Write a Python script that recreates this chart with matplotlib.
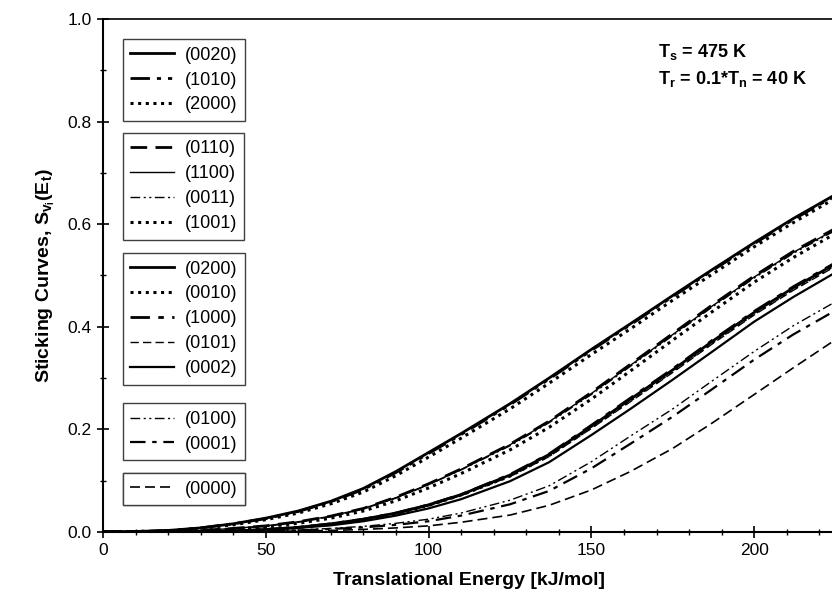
import matplotlib
matplotlib.use("Agg")
import matplotlib.pyplot as plt
from matplotlib.lines import Line2D
from matplotlib.ticker import MultipleLocator, FormatStrFormatter

plt.rcParams['font.family'] = ['Liberation Sans', 'DejaVu Sans']
plt.rcParams['mathtext.fontset'] = 'custom'
plt.rcParams['mathtext.rm'] = 'Liberation Sans:bold'
plt.rcParams['mathtext.it'] = 'Liberation Sans:bold'
plt.rcParams['mathtext.bf'] = 'Liberation Sans:bold'

# translational energy grid (kJ/mol)
energy = [0, 10, 20, 30, 40, 50, 60, 70, 80, 90, 100, 110, 125, 137, 150,
          162, 175, 187, 200, 212, 225]

# group 1
s0020 = [0, 0.001, 0.003, 0.008, 0.016, 0.027, 0.041, 0.060, 0.085, 0.118, 0.155,
         0.192, 0.250, 0.300, 0.356, 0.406, 0.461, 0.511, 0.564, 0.611, 0.658]
s1010 = [0, 0.001, 0.003, 0.008, 0.016, 0.026, 0.040, 0.059, 0.083, 0.116, 0.153,
         0.190, 0.248, 0.298, 0.354, 0.404, 0.459, 0.509, 0.562, 0.609, 0.656]
s2000 = [0, 0.001, 0.002, 0.007, 0.014, 0.024, 0.037, 0.055, 0.078, 0.110, 0.146,
         0.183, 0.240, 0.290, 0.346, 0.396, 0.452, 0.502, 0.556, 0.603, 0.651]
# group 2
s0110 = [0, 0, 0.001, 0.003, 0.007, 0.012, 0.020, 0.031, 0.046, 0.068, 0.094,
         0.123, 0.171, 0.216, 0.272, 0.327, 0.387, 0.442, 0.499, 0.547, 0.592]
s1100 = [0, 0, 0.001, 0.003, 0.007, 0.012, 0.020, 0.031, 0.046, 0.067, 0.093,
         0.122, 0.170, 0.215, 0.270, 0.325, 0.385, 0.440, 0.497, 0.545, 0.590]
s0011 = [0, 0, 0.001, 0.003, 0.006, 0.011, 0.019, 0.030, 0.045, 0.066, 0.092,
         0.121, 0.168, 0.213, 0.268, 0.323, 0.383, 0.438, 0.495, 0.543, 0.588]
s1001 = [0, 0, 0.001, 0.002, 0.006, 0.010, 0.017, 0.027, 0.041, 0.061, 0.086,
         0.114, 0.160, 0.204, 0.259, 0.314, 0.374, 0.429, 0.487, 0.535, 0.582]
# group 3
s0200 = [0, 0, 0, 0.001, 0.002, 0.005, 0.009, 0.016, 0.025, 0.037, 0.053,
         0.073, 0.111, 0.151, 0.206, 0.259, 0.316, 0.371, 0.428, 0.476, 0.523]
s0010 = [0, 0, 0, 0.001, 0.002, 0.005, 0.009, 0.015, 0.024, 0.036, 0.052,
         0.072, 0.109, 0.149, 0.204, 0.257, 0.314, 0.369, 0.426, 0.474, 0.521]
s1000 = [0, 0, 0, 0.001, 0.002, 0.005, 0.009, 0.016, 0.025, 0.037, 0.053,
         0.073, 0.112, 0.152, 0.208, 0.261, 0.318, 0.373, 0.430, 0.478, 0.525]
s0101 = [0, 0, 0, 0.001, 0.002, 0.005, 0.009, 0.015, 0.024, 0.036, 0.051,
         0.071, 0.108, 0.147, 0.202, 0.254, 0.311, 0.366, 0.423, 0.471, 0.518]
s0002 = [0, 0, 0, 0.001, 0.002, 0.004, 0.008, 0.013, 0.021, 0.032, 0.046,
         0.064, 0.099, 0.136, 0.189, 0.240, 0.297, 0.351, 0.410, 0.458, 0.506]
# group 4
s0100 = [0, 0, 0, 0, 0.001, 0.002, 0.004, 0.007, 0.011, 0.017, 0.025,
         0.037, 0.062, 0.090, 0.137, 0.187, 0.240, 0.294, 0.352, 0.402, 0.449]
s0001 = [0, 0, 0, 0, 0.001, 0.002, 0.003, 0.006, 0.009, 0.014, 0.021,
         0.032, 0.054, 0.080, 0.124, 0.172, 0.225, 0.278, 0.336, 0.385, 0.432]
# group 5
s0000 = [0, 0, 0, 0, 0, 0.001, 0.002, 0.003, 0.005, 0.008, 0.012,
         0.019, 0.033, 0.052, 0.082, 0.118, 0.163, 0.212, 0.268, 0.320, 0.375]

# line styles
SOLID = '-'
DOT = (0, (1, 1.5))
DASH = (0, (6, 3))
DASHDOT = (0, (7, 3, 2, 3))
DASHDOTDOT = (0, (7, 2.5, 1.5, 2.5, 1.5, 2.5))

groups = [
    [('(0020)', s0020, SOLID, 2.0), ('(1010)', s1010, DASHDOTDOT, 2.0), ('(2000)', s2000, DOT, 2.2)],
    [('(0110)', s0110, DASH, 2.0), ('(1100)', s1100, SOLID, 1.0),
     ('(0011)', s0011, DASHDOTDOT, 1.0), ('(1001)', s1001, DOT, 2.2)],
    [('(0200)', s0200, SOLID, 2.0), ('(0010)', s0010, DOT, 2.2), ('(1000)', s1000, DASHDOT, 2.0),
     ('(0101)', s0101, DASH, 1.0), ('(0002)', s0002, SOLID, 1.6)],
    [('(0100)', s0100, DASHDOTDOT, 1.0), ('(0001)', s0001, DASHDOT, 1.6)],
    [('(0000)', s0000, DASH, 1.2)],
]

fig = plt.figure(figsize=(8.32, 6.01), dpi=100)
ax = fig.add_axes([0.1238, 0.1148, 0.8805, 0.8536])

for grp in groups:
    for lab, ys, ls, lw in grp:
        ax.plot(energy, ys, color='black', linestyle=ls, linewidth=lw)

ax.set_xlim(0, 225)
ax.set_ylim(0, 1.0)
ax.xaxis.set_major_locator(MultipleLocator(50))
ax.xaxis.set_minor_locator(MultipleLocator(10))
ax.yaxis.set_major_locator(MultipleLocator(0.2))
ax.yaxis.set_minor_locator(MultipleLocator(0.1))
ax.yaxis.set_major_formatter(FormatStrFormatter('%.1f'))
ax.tick_params(which='major', direction='inout', length=9, width=1.2, labelsize=12.5)
ax.tick_params(which='minor', direction='inout', length=5, width=1.0)
for side in ['left', 'bottom']:
    ax.spines[side].set_linewidth(1.5)
ax.spines['top'].set_linewidth(1.2)
ax.spines['right'].set_visible(False)

ax.set_xlabel('Translational Energy [kJ/mol]', fontsize=14, fontweight='bold', labelpad=10)
ax.set_ylabel(r'Sticking Curves, S$_{v_i}$(E$_t$)', fontsize=14, fontweight='bold', labelpad=8)

ax.text(0.757, 0.955, r'T$_s$ = 475 K', transform=ax.transAxes, fontsize=13,
        fontweight='bold', va='top', ha='left')
ax.text(0.757, 0.902, r'T$_r$ = 0.1*T$_n$ = 40 K', transform=ax.transAxes, fontsize=13,
        fontweight='bold', va='top', ha='left')

# separate legend boxes, one per group
tops = [0.961, 0.778, 0.544, 0.251, 0.115]
for grp, top in zip(groups, tops):
    handles = [Line2D([], [], color='black', linestyle=ls, linewidth=lw) for lab, ys, ls, lw in grp]
    labels = [lab for lab, ys, ls, lw in grp]
    leg = ax.legend(handles, labels, loc='upper left', bbox_to_anchor=(0.027, top),
                    borderaxespad=0, fontsize=13, handlelength=2.4, handletextpad=0.6,
                    labelspacing=0.44, borderpad=0.42, fancybox=False, framealpha=1,
                    edgecolor='#404040')
    leg.get_frame().set_linewidth(1.0)
    ax.add_artist(leg)

fig.savefig('out.png', dpi=100)
